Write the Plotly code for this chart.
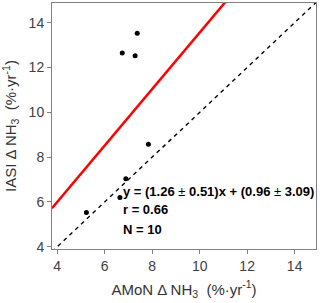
import plotly.graph_objects as go

amon = [5.23, 6.64, 6.89, 7.84, 6.74, 7.28, 7.37]
iasi = [5.53, 6.20, 7.04, 8.58, 12.65, 12.52, 13.53]
slope = 1.26
intercept = 0.96
x_range = [3.78, 14.9]
y_range = [3.9, 14.88]
tick_vals = [4, 6, 8, 10, 12, 14]
stat_lines = [
    "<b>y = (1.26 </b>±<b> 0.51)x + (0.96 </b>±<b> 3.09)</b>",
    "<b>r = 0.66</b>",
    "<b>N = 10</b>",
]

fig = go.Figure()
# 1:1 line
lo = min(x_range[0], y_range[0])
hi = max(x_range[1], y_range[1])
fig.add_trace(go.Scatter(x=[lo, hi], y=[lo, hi], mode="lines",
                         line=dict(color="black", width=1.4, dash="4px,4px"),
                         showlegend=False, hoverinfo="skip"))
# regression line
fx = [x_range[0], x_range[1]]
fy = [slope * v + intercept for v in fx]
fig.add_trace(go.Scatter(x=fx, y=fy, mode="lines",
                         line=dict(color="#ff0000", width=2.5),
                         showlegend=False, hoverinfo="skip"))
fig.add_trace(go.Scatter(x=amon, y=iasi, mode="markers",
                         marker=dict(color="black", size=5),
                         showlegend=False))

ys = [6.45, 5.65, 4.75]
for txt, yy in zip(stat_lines, ys):
    fig.add_annotation(x=6.67, y=yy, text=txt, showarrow=False,
                       xanchor="left", yanchor="middle",
                       font=dict(family="Liberation Sans, Arial", size=13, color="black"))

axis_common = dict(showline=True, linecolor="#808080", linewidth=1, mirror=True,
                   ticks="outside", ticklen=4, tickcolor="#808080",
                   showgrid=False, zeroline=False, tickvals=tick_vals,
                   automargin=False,
                   tickfont=dict(family="Liberation Sans, Arial", size=14, color="#404040"))
fig.update_xaxes(range=x_range,
                 title=dict(text="AMoN Δ NH<sub>3</sub>  (%·yr<sup>-1</sup>)",
                            font=dict(family="Liberation Sans, Arial", size=15, color="#333333"),
                            standoff=11),
                 **axis_common)
fig.update_yaxes(range=y_range,
                 title=dict(text="IASI Δ NH<sub>3</sub>  (%·yr<sup>-1</sup>)",
                            font=dict(family="Liberation Sans, Arial", size=15, color="#333333"),
                            standoff=8),
                 **axis_common)
fig.update_layout(width=320, height=303, margin=dict(l=52, r=4, t=3, b=54),
                  plot_bgcolor="white", paper_bgcolor="white")
fig.write_html("out.html", config={"displayModeBar": False},
               post_script="document.body.style.margin='0';")
